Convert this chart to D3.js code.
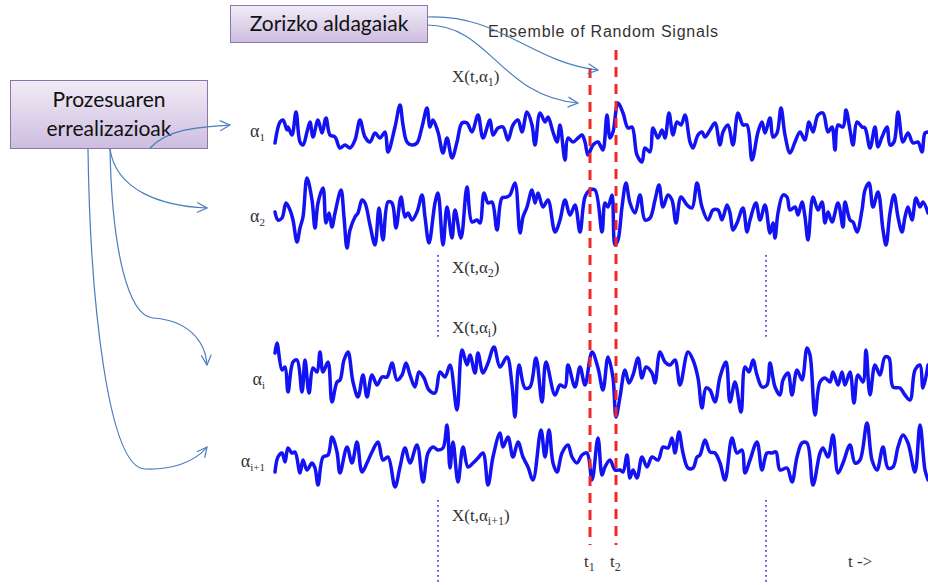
<!DOCTYPE html>
<html>
<head>
<meta charset="utf-8">
<script src="https://cdn.jsdelivr.net/npm/d3@7"></script>
<style>
html,body{margin:0;padding:0;background:#fff;}
svg{display:block;}
</style>
</head>
<body>
<svg id="chart" width="928" height="585"></svg>
<script>
// ---------- data ----------
const title = "Ensemble of Random Signals";
const boxLabels = ["Zorizko aldagaiak", "Prozesuaren", "errealizazioak"];
const seriesNames = ["1", "2", "i", "i+1"];
const markerTimes = ["t1", "t2"];
const markerT = [318, 344];
const windowT = [166, 494];
const axisLabel = "t ->";

// [t, amplitude] samples
const signal1 = [[3,-13],[8,8],[11,10],[15,0],[16,3],[20,-5],[24,18],[28,-12],[31,-15],[35,-2],[38,8],[41,-7],[46,10],[50,-3],[54,12],[58,-5],[63,-7],[68,-18],[73,-15],[78,-18],[83,-10],[88,10],[93,-7],[98,-12],[103,-3],[108,-8],[113,-2],[116,-22],[123,3],[128,25],[131,5],[135,-12],[140,-15],[145,-13],[150,3],[155,22],[158,3],[161,10],[166,-2],[171,-23],[175,-8],[180,-28],[185,-12],[190,7],[195,7],[200,-2],[206,15],[211,-8],[218,10],[221,-5],[226,2],[231,3],[236,-10],[241,5],[246,10],[250,-2],[255,18],[260,5],[263,-15],[268,17],[273,8],[276,13],[281,-2],[285,-12],[288,5],[293,-30],[296,-8],[301,-12],[306,-8],[310,-5],[313,-12],[316,-25],[321,-15],[326,-12],[328,-15],[331,-20],[335,15],[338,-8],[341,-2],[346,27],[351,17],[356,2],[360,3],[365,-25],[370,-32],[373,-18],[378,-22],[381,2],[386,-8],[390,0],[393,-8],[397,17],[401,-5],[405,8],[409,5],[413,15],[418,-12],[421,-18],[426,-5],[430,-2],[433,-7],[438,0],[443,7],[448,-15],[451,-2],[456,5],[461,-15],[466,17],[471,5],[475,5],[480,-30],[486,-2],[490,8],[493,-3],[498,12],[501,-7],[505,-3],[509,22],[513,-5],[518,-23],[523,-12],[528,-2],[533,-10],[537,8],[541,-2],[546,15],[551,17],[556,-2],[560,3],[563,-20],[566,5],[571,3],[574,20],[578,0],[581,-15],[585,8],[590,3],[593,2],[598,-18],[603,3],[606,-17],[610,-7],[615,3],[618,-15],[622,-12],[626,18],[631,-12],[636,-3],[641,-13],[646,-12],[650,-22],[653,-3],[656,-2]];

const signal2 = [[3,1],[6,-7],[10,-5],[14,10],[18,3],[21,-7],[25,-29],[28,-15],[31,-4],[35,35],[40,13],[43,-15],[46,10],[51,25],[54,-10],[57,0],[60,-14],[63,0],[69,23],[72,-4],[75,-35],[78,-17],[83,-4],[86,0],[90,13],[93,10],[98,-12],[103,-32],[107,5],[111,-27],[116,11],[120,10],[124,-15],[129,16],[133,-4],[136,0],[140,-7],[145,1],[150,18],[153,-4],[157,-30],[163,10],[166,20],[171,-32],[175,6],[180,-25],[183,3],[189,-25],[195,26],[200,-9],[205,-7],[208,-10],[212,20],[216,10],[220,11],[225,-17],[230,15],[235,16],[238,18],[243,30],[248,-20],[251,-4],[255,6],[260,23],[263,10],[266,20],[271,6],[276,13],[283,-19],[288,-7],[293,13],[298,-2],[303,8],[308,-19],[313,16],[318,23],[323,23],[330,-19],[333,10],[336,6],[340,18],[343,-32],[346,-27],[350,6],[354,30],[358,10],[363,0],[368,18],[373,-7],[378,-5],[383,13],[387,28],[391,6],[396,18],[400,13],[404,-10],[409,16],[415,8],[420,5],[425,30],[430,6],[436,-7],[441,3],[446,3],[450,-7],[455,8],[458,0],[461,-17],[465,-10],[471,5],[475,-19],[478,-7],[484,10],[488,-7],[493,8],[498,-20],[501,-10],[503,-25],[506,0],[511,18],[515,16],[518,3],[523,6],[526,-2],[530,11],[533,-4],[536,-27],[541,16],[546,3],[550,11],[553,-10],[556,1],[560,-9],[566,10],[571,-14],[573,11],[578,-7],[581,-9],[585,-19],[590,3],[593,23],[597,30],[601,6],[606,21],[611,-17],[614,-32],[618,0],[622,18],[626,-4],[630,-19],[633,-4],[636,6],[640,-7],[644,15],[648,6],[651,11],[656,0]];

const signal3 = [[3,25],[5,35],[10,8],[13,11],[16,-14],[21,16],[25,18],[30,-14],[33,18],[37,-15],[41,10],[45,6],[48,26],[51,6],[56,16],[60,-24],[65,-4],[68,-2],[72,18],[76,26],[81,-4],[86,-19],[91,3],[95,-19],[100,3],[105,-7],[110,1],[115,1],[120,15],[125,-2],[130,3],[134,15],[138,3],[143,-9],[147,6],[152,0],[157,-12],[163,-15],[168,6],[173,1],[178,13],[185,-32],[190,28],[195,13],[198,23],[203,5],[206,25],[211,5],[216,15],[222,31],[228,11],[235,21],[240,-7],[243,-39],[247,13],[253,-10],[258,-9],[264,20],[270,-24],[274,16],[283,-17],[288,-7],[293,-9],[296,13],[303,-9],[308,11],[313,-7],[320,26],[326,10],[331,-12],[336,21],[341,0],[344,-39],[348,-19],[353,8],[357,-5],[361,3],[366,20],[370,0],[374,11],[380,5],[383,-5],[388,26],[393,16],[398,13],[403,18],[408,-7],[416,26],[421,18],[426,0],[430,-30],[434,-10],[438,-12],[443,-24],[448,1],[454,16],[458,-24],[463,-4],[469,-34],[473,11],[477,6],[481,18],[485,3],[490,-9],[495,-7],[498,15],[503,-9],[508,-17],[511,-2],[516,5],[520,-17],[525,8],[530,-2],[535,30],[538,23],[543,-37],[548,-4],[553,0],[558,-4],[561,6],[566,-7],[570,6],[573,-7],[578,6],[582,-25],[586,3],[591,-4],[594,28],[598,-17],[603,13],[608,3],[613,21],[617,20],[621,-9],[628,-10],[633,-17],[638,-22],[643,8],[648,13],[651,-10],[656,13]];

const signal4 = [[3,-14],[6,1],[10,5],[13,-4],[16,10],[20,5],[23,6],[28,-15],[31,-2],[35,-12],[40,-5],[43,-10],[46,-27],[51,1],[56,3],[60,21],[65,6],[68,-15],[75,11],[80,-5],[85,16],[90,-14],[95,-5],[100,6],[106,16],[111,-2],[116,1],[123,-29],[128,-9],[133,10],[138,-5],[145,13],[151,-24],[156,5],[161,11],[166,8],[171,10],[175,33],[178,-10],[181,16],[186,-24],[191,11],[196,-9],[201,-5],[206,0],[211,5],[216,-27],[221,1],[228,25],[231,11],[236,21],[241,1],[246,16],[251,1],[256,-9],[261,-22],[269,28],[273,1],[277,28],[281,-5],[285,-14],[290,5],[296,13],[300,1],[305,-5],[310,3],[315,5],[320,-22],[326,20],[330,-17],[333,-9],[338,-2],[343,-12],[348,-12],[351,-14],[355,3],[358,-20],[361,-12],[365,-20],[370,1],[375,-9],[380,1],[386,-2],[391,11],[396,10],[400,20],[403,5],[407,26],[411,5],[416,-10],[421,-10],[425,1],[428,3],[433,18],[438,6],[443,5],[448,-5],[453,-22],[460,20],[465,5],[470,8],[473,-15],[478,-2],[485,16],[490,-12],[495,5],[500,5],[504,6],[508,-12],[515,-10],[520,-24],[525,1],[530,15],[535,15],[541,-27],[548,5],[551,10],[556,1],[561,23],[566,-15],[571,-5],[578,13],[583,-5],[588,-2],[595,35],[600,-2],[605,-12],[611,11],[616,-10],[621,-9],[626,11],[631,23],[636,15],[643,-14],[648,33],[653,-12],[656,-22]];

const signals = [signal1, signal2, signal3, signal4];
const baselines = [130, 213, 378, 458]; // vertical center of each realization

// ---------- drawing ----------
const svg = d3.select("#chart");
const x = d3.scaleLinear().domain([0, 656]).range([272, 928]);
const amp = d3.scaleLinear().domain([-40, 40]).range([40, -40]);

const defs = svg.append("defs");
const grad = defs.append("linearGradient").attr("id", "boxGrad")
  .attr("x1", 0).attr("y1", 0).attr("x2", 0).attr("y2", 1);
grad.append("stop").attr("offset", "0%").attr("stop-color", "#f1ecf6");
grad.append("stop").attr("offset", "100%").attr("stop-color", "#cdbde0");

defs.append("marker").attr("id", "arr")
  .attr("viewBox", "0 0 12 12").attr("refX", 11).attr("refY", 6)
  .attr("markerWidth", 12).attr("markerHeight", 12)
  .attr("markerUnits", "userSpaceOnUse").attr("orient", "auto")
  .append("path").attr("d", "M1,1 L11,6 L1,11")
  .attr("fill", "none").attr("stroke", "#4a7ebb").attr("stroke-width", 1.2);

// title
svg.append("text").attr("x", 603).attr("y", 37).attr("text-anchor", "middle")
  .attr("font-family", "Liberation Sans, Arial, sans-serif").attr("font-size", 16)
  .attr("fill", "#333").attr("textLength", 230).text(title);

// dotted window lines
[[255, 340], [500, 585]].forEach(([y0, y1]) => {
  windowT.forEach(t => {
    svg.append("line").attr("x1", x(t)).attr("x2", x(t)).attr("y1", y0).attr("y2", y1)
      .attr("stroke", "#5f5ff2").attr("stroke-width", 2).attr("stroke-dasharray", "1.8,3.2");
  });
});

// signals
const line = d3.line().x(d => x(d[0])).curve(d3.curveCatmullRom.alpha(0.5));
signals.forEach((s, i) => {
  svg.append("path").datum(s)
    .attr("d", line.y(d => baselines[i] + amp(d[1])))
    .attr("fill", "none").attr("stroke", "#1212f2").attr("stroke-width", 3.5)
    .attr("stroke-linejoin", "round").attr("stroke-linecap", "round");
});

// red dashed markers
const markerTop = [68, 50];
markerT.forEach((t, i) => {
  svg.append("line").attr("x1", x(t)).attr("x2", x(t)).attr("y1", markerTop[i]).attr("y2", 545)
    .attr("stroke", "#f02828").attr("stroke-width", 3).attr("stroke-dasharray", "10,7");
});

// alpha labels on the left
const serif = "Liberation Serif, Times New Roman, serif";
const alphaY = [137, 222, 385, 467];
seriesNames.forEach((n, i) => {
  const tx = svg.append("text").attr("x", 265).attr("y", alphaY[i]).attr("text-anchor", "end")
    .attr("font-family", serif).attr("font-size", 18).attr("fill", "#333");
  tx.append("tspan").text("\u03b1");
  tx.append("tspan").attr("font-size", 11).attr("dy", 4).text(n);
});

// X(t, alpha) labels
const xLabY = [82, 273, 333, 521];
seriesNames.forEach((n, i) => {
  const tx = svg.append("text").attr("x", 452).attr("y", xLabY[i])
    .attr("font-family", serif).attr("font-size", 17).attr("fill", "#333");
  tx.append("tspan").text("X(t,\u03b1");
  tx.append("tspan").attr("font-size", 12).attr("dy", 4).text(n);
  tx.append("tspan").attr("dy", -4).text(")");
});

// t1, t2 and t -> labels
markerTimes.forEach((m, i) => {
  const tx = svg.append("text").attr("x", x(markerT[i]) - 6).attr("y", 567)
    .attr("font-family", serif).attr("font-size", 17).attr("fill", "#333");
  tx.append("tspan").text(m[0]);
  tx.append("tspan").attr("font-size", 12).attr("dy", 4).text(m.slice(1));
});
svg.append("text").attr("x", 848).attr("y", 567)
  .attr("font-family", serif).attr("font-size", 17).attr("fill", "#333").text(axisLabel);

// callout boxes
const sans = "Lato, Noto Sans, sans-serif";
svg.append("rect").attr("x", 230.5).attr("y", 5.5).attr("width", 197).attr("height", 37)
  .attr("fill", "url(#boxGrad)").attr("stroke", "#8c74ac").attr("stroke-width", 1);
svg.append("text").attr("x", 329).attr("y", 31).attr("text-anchor", "middle")
  .attr("font-family", sans).attr("font-size", 21).attr("fill", "#111").text(boxLabels[0]);

svg.append("rect").attr("x", 10.5).attr("y", 80.5).attr("width", 197).attr("height", 68)
  .attr("fill", "url(#boxGrad)").attr("stroke", "#8c74ac").attr("stroke-width", 1);
svg.append("text").attr("x", 109).attr("y", 107).attr("text-anchor", "middle")
  .attr("font-family", sans).attr("font-size", 21).attr("fill", "#111").text(boxLabels[1]);
svg.append("text").attr("x", 109).attr("y", 136).attr("text-anchor", "middle")
  .attr("font-family", sans).attr("font-size", 21).attr("fill", "#111").text(boxLabels[2]);

// connector arrows
const arrows = [
  "M427,17 C500,14 530,62 598,70",
  "M427,25 C490,25 500,96 578,103",
  "M150,148 C170,128 200,127 230,125",
  "M110,149 C116,190 160,206 207,208",
  "M110,149 C112,250 128,316 153,318 C185,320 205,338 207,365",
  "M88,149 C90,300 108,468 145,469 C172,470 195,462 207,447"
];
arrows.forEach(d => {
  svg.append("path").attr("d", d).attr("fill", "none")
    .attr("stroke", "#4a7ebb").attr("stroke-width", 1.2).attr("marker-end", "url(#arr)");
});
</script>
</body>
</html>
